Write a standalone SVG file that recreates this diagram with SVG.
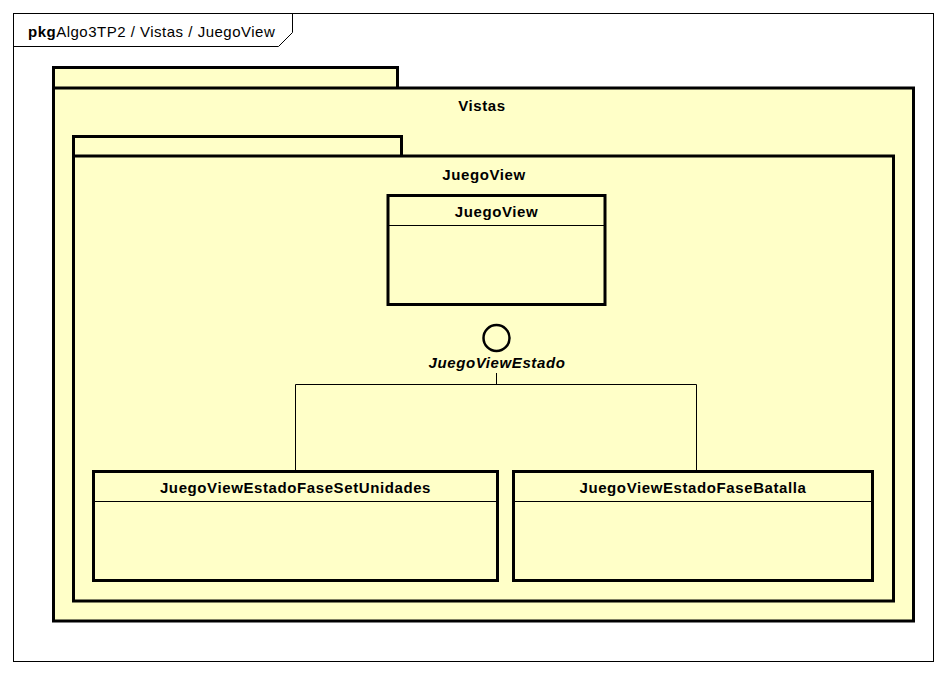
<svg xmlns="http://www.w3.org/2000/svg" width="946" height="674" viewBox="0 0 946 674">
  <style>
    .frame { fill: #ffffff; stroke: #000000; stroke-width: 1; }
    .pkg { fill: #ffffc8; stroke: #000000; stroke-width: 3; }
    .cls { fill: #ffffc8; stroke: #000000; stroke-width: 3; }
    .sep { stroke: #000000; stroke-width: 1; fill: none; }
    .conn { stroke: #000000; stroke-width: 1; fill: none; }
    .lbl { font-family: "Liberation Sans", Arial, sans-serif; font-size: 15px; font-weight: bold; letter-spacing: 0.6px; text-anchor: middle; fill: #000000; }
    .title { font-family: "Liberation Sans", Arial, sans-serif; font-size: 15px; letter-spacing: 0.5px; fill: #000000; }
  </style>

  <!-- diagram frame -->
  <g id="frame">
    <rect class="frame" x="13.5" y="13.5" width="920" height="648"/>
    <path class="sep" d="M13.5,46.5 H278.5 L292.5,32.5 V13.5"/>
    <text class="title" x="28" y="37"><tspan font-weight="bold">pkg</tspan>Algo3TP2 / Vistas / JuegoView</text>
  </g>

  <!-- package Vistas -->
  <g id="pkg-vistas">
    <rect class="pkg" x="53.5" y="67.5" width="344" height="21"/>
    <rect class="pkg" x="53.5" y="88" width="860" height="533"/>
    <text class="lbl" x="482" y="111">Vistas</text>
  </g>

  <!-- package JuegoView -->
  <g id="pkg-juegoview">
    <rect class="pkg" x="73.5" y="136.5" width="328" height="20"/>
    <rect class="pkg" x="73.5" y="156" width="820" height="445"/>
    <text class="lbl" x="484" y="180">JuegoView</text>
  </g>

  <!-- class JuegoView -->
  <g id="cls-juegoview">
    <rect class="cls" x="388" y="195.5" width="217" height="109"/>
    <line class="sep" x1="388" y1="225.5" x2="605" y2="225.5"/>
    <text class="lbl" x="496.5" y="217">JuegoView</text>
  </g>

  <!-- interface JuegoViewEstado -->
  <g id="if-juegoviewestado">
    <circle cx="496.5" cy="338" r="13" fill="#ffffc8" stroke="#000000" stroke-width="2.5"/>
    <text class="lbl" x="497" y="368" font-style="italic">JuegoViewEstado</text>
  </g>

  <!-- realization connectors -->
  <g id="connectors">
    <path class="conn" d="M496.5,373 V384.5 M295.5,471 V384.5 H696.5 V471"/>
  </g>

  <!-- class JuegoViewEstadoFaseSetUnidades -->
  <g id="cls-fasesetunidades">
    <rect class="cls" x="93.5" y="471.5" width="404" height="109"/>
    <line class="sep" x1="93.5" y1="501.5" x2="497.5" y2="501.5"/>
    <text class="lbl" x="295.5" y="493">JuegoViewEstadoFaseSetUnidades</text>
  </g>

  <!-- class JuegoViewEstadoFaseBatalla -->
  <g id="cls-fasebatalla">
    <rect class="cls" x="513.5" y="471.5" width="359" height="109"/>
    <line class="sep" x1="513.5" y1="501.5" x2="872.5" y2="501.5"/>
    <text class="lbl" x="693" y="493">JuegoViewEstadoFaseBatalla</text>
  </g>
</svg>
